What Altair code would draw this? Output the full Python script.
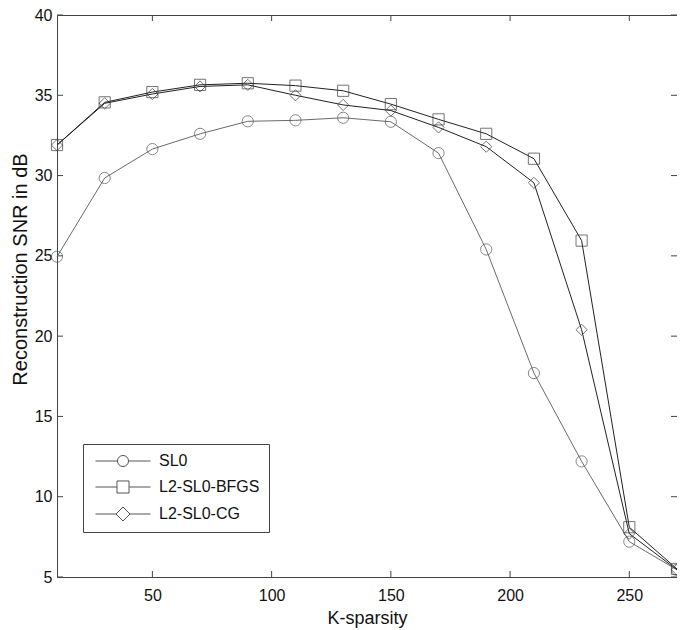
import altair as alt
import pandas as pd

k_sparsity = [10, 30, 50, 70, 90, 110, 130, 150, 170, 190, 210, 230, 250, 270]
snr_sl0 = [24.95, 29.85, 31.65, 32.6, 33.38, 33.44, 33.6, 33.35, 31.4, 25.4, 17.7, 12.2, 7.2, 5.45]
snr_bfgs = [31.9, 34.56, 35.2, 35.65, 35.75, 35.6, 35.28, 34.45, 33.5, 32.6, 31.05, 25.95, 8.1, 5.5]
snr_cg = [31.9, 34.5, 35.08, 35.55, 35.65, 35.0, 34.4, 34.05, 33.0, 31.8, 29.55, 20.4, 7.7, 5.45]
methods = ["SL0", "L2-SL0-BFGS", "L2-SL0-CG"]
x_ticks = [50, 100, 150, 200, 250]
y_ticks = [5, 10, 15, 20, 25, 30, 35, 40]

rows = []
for name, vals in zip(methods, [snr_sl0, snr_bfgs, snr_cg]):
    for kk, v in zip(k_sparsity, vals):
        rows.append({"K": kk, "SNR": v, "Method": name})
df = pd.DataFrame(rows)

W, H = 620, 562
FONT = "Liberation Sans"
FRAME = "#444444"

xs = alt.Scale(domain=[10, 270], nice=False, zero=False)
ys = alt.Scale(domain=[5, 40], nice=False, zero=False)

xax = alt.Axis(values=x_ticks, ticks=False, domain=False, grid=False, labelFont=FONT,
               labelFontSize=16, labelColor="#111", labelPadding=10, title="K-sparsity",
               titleFont=FONT, titleFontSize=18, titleFontWeight="normal", titleColor="#111",
               titlePadding=6)
yax = alt.Axis(values=y_ticks, ticks=False, domain=False, grid=False, labelFont=FONT,
               labelFontSize=16, labelColor="#111", labelPadding=5,
               title="Reconstruction SNR in dB", titleFont=FONT, titleFontSize=20,
               titleFontWeight="normal", titleColor="#111",
               titleX=-27, titleY=254, titleAngle=270, titleAlign="center",
               titleBaseline="bottom")

col_scale = alt.Scale(domain=methods, range=["#6a6a6a", "#222222", "#222222"])
pt_scale = alt.Scale(domain=methods, range=["#555555", "#3a3a3a", "#3a3a3a"])

lines = alt.Chart(df).mark_line(strokeWidth=1).encode(
    x=alt.X("K:Q", scale=xs, axis=xax),
    y=alt.Y("SNR:Q", scale=ys, axis=yax),
    detail="Method:N",
    color=alt.Color("Method:N", scale=col_scale, legend=None),
)

points = alt.Chart(df).mark_point(filled=False, size=125, strokeWidth=1).encode(
    x=alt.X("K:Q", scale=xs),
    y=alt.Y("SNR:Q", scale=ys),
    shape=alt.Shape("Method:N", scale=alt.Scale(domain=methods, range=["circle", "square", "diamond"]), legend=None),
    stroke=alt.Stroke("Method:N", scale=pt_scale, legend=None),
)

leg_paths = [
    "M-3.93,0H-0.79M0.79,0H3.93M-0.79,0A0.79,0.79,0,1,0,0.79,0A0.79,0.79,0,1,0,-0.79,0Z",
    "M-3.93,0H-0.86M0.86,0H3.93M-0.86,-0.86H0.86V0.86H-0.86Z",
    "M-3.93,0H-1M1,0H3.93M-1,0L0,-1L1,0L0,1Z",
]

legend_layer = alt.Chart(df).mark_point(opacity=0, filled=False).encode(
    x=alt.X("K:Q", scale=xs),
    y=alt.Y("SNR:Q", scale=ys),
    shape=alt.Shape("Method:N", scale=alt.Scale(domain=methods, range=leg_paths),
                    legend=alt.Legend(orient="none", legendX=26, legendY=429, title=None,
                                      symbolSize=196, symbolStrokeColor="#555555",
                                      symbolFillColor="transparent", symbolStrokeWidth=1,
                                      symbolOpacity=1, symbolOffset=23,
                                      labelFont=FONT, labelFontSize=16, labelColor="#111",
                                      labelOffset=28, rowPadding=9, padding=9,
                                      labelExpr="datum.label + '      '",
                                      strokeColor=FRAME, fillColor="white")),
)

tick_df = pd.DataFrame({"v": x_ticks})
ytick_df = pd.DataFrame({"v": y_ticks})
bt = alt.Chart(tick_df).mark_rule(color=FRAME, strokeWidth=1).encode(
    x=alt.X("v:Q", scale=xs), y=alt.value(H), y2=alt.value(H - 6))
tt = alt.Chart(tick_df).mark_rule(color=FRAME, strokeWidth=1).encode(
    x=alt.X("v:Q", scale=xs), y=alt.value(0), y2=alt.value(6))
lt = alt.Chart(ytick_df).mark_rule(color=FRAME, strokeWidth=1).encode(
    y=alt.Y("v:Q", scale=ys), x=alt.value(0), x2=alt.value(6))
rt = alt.Chart(ytick_df).mark_rule(color=FRAME, strokeWidth=1).encode(
    y=alt.Y("v:Q", scale=ys), x=alt.value(W), x2=alt.value(W - 6))

chart = alt.layer(bt, tt, lt, rt, lines, points, legend_layer).resolve_scale(
    shape="independent"
).properties(
    width=W, height=H,
    autosize=alt.AutoSizeParams(type="none"),
    padding={"left": 49, "top": 7, "right": 0, "bottom": 53},
    background="white",
).configure_view(stroke=FRAME, strokeWidth=1)

chart.save("out.html", embed_options={"renderer": "svg", "actions": False})
